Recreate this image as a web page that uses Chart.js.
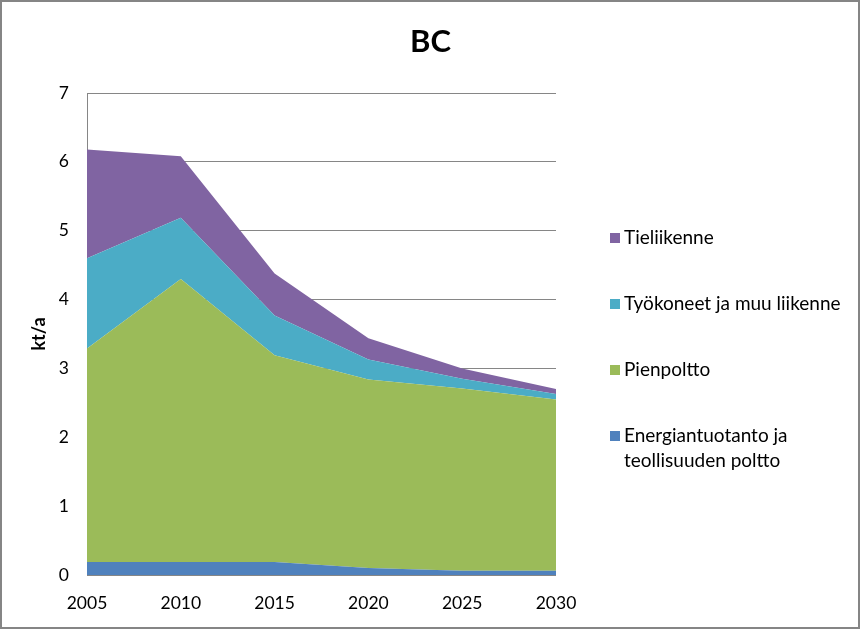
<!DOCTYPE html>
<html>
<head>
<meta charset="utf-8">
<script src="https://cdn.jsdelivr.net/npm/chart.js@4/dist/chart.umd.min.js"></script>
<style>
  html, body { margin: 0; padding: 0; background: #ffffff; }
  #wrap { position: relative; width: 861px; height: 631px; overflow: hidden; background: #fff; }
  #c { position: absolute; left: 0; top: 0; }
  #frame { position: absolute; left: 0px; top: 0px; width: 860px; height: 629px; box-sizing: border-box;
           border: 2px solid #858585; pointer-events: none; }
</style>
</head>
<body>
<div id="wrap">
  <canvas id="c" width="861" height="631"></canvas>
  <div id="frame"></div>
</div>
<script>
// ---- data ----
const years = ['2005', '2010', '2015', '2020', '2025', '2030'];
const energiantuotanto = [0.19, 0.19, 0.19, 0.10, 0.06, 0.06];
const pienpoltto       = [3.10, 4.11, 3.00, 2.74, 2.65, 2.49];
const tyokoneet        = [1.31, 0.89, 0.58, 0.29, 0.14, 0.08];
const tieliikenne      = [1.58, 0.89, 0.61, 0.31, 0.15, 0.07];
const seriesLabels = [
  ['Energiantuotanto ja', 'teollisuuden poltto'],
  ['Pienpoltto'],
  ['Työkoneet ja muu liikenne'],
  ['Tieliikenne']
];
const seriesColors = ['#4F81BD', '#9BBB59', '#4BACC6', '#8064A2'];
const yTicks = [0, 1, 2, 3, 4, 5, 6, 7];
const chartTitle = 'BC';
const yTitle = 'kt/a';

const FONT = 'Lato, "Noto Sans", sans-serif';

const values = [energiantuotanto, pienpoltto, tyokoneet, tieliikenne];
const datasets = values.map((v, i) => ({
  label: seriesLabels[i].join(' '),
  legendLines: seriesLabels[i],
  data: v,
  backgroundColor: seriesColors[i],
  borderColor: seriesColors[i],
  borderWidth: 0,
  pointRadius: 0,
  pointHoverRadius: 0,
  tension: 0,
  fill: i === 0 ? 'origin' : '-1'
}));

// side legend drawn inside Chart.js layout as a right-hand box
const sideLegend = {
  id: 'sideLegend',
  beforeInit(chart) {
    const box = {
      position: 'right',
      weight: 100,
      fullSize: false,
      options: {},
      isHorizontal() { return false; },
      update(maxWidth, maxHeight) { this.width = 305; this.height = maxHeight; },
      draw() {
        const ctx = chart.ctx;
        const ds = chart.data.datasets.slice().reverse();
        ctx.save();
        ctx.font = '19px ' + FONT;
        ctx.textBaseline = 'middle';
        ctx.textAlign = 'left';
        let y = this.top + 145;
        ds.forEach((d) => {
          ctx.fillStyle = d.backgroundColor;
          ctx.fillRect(this.left + 54, y - 5, 10, 10);
          ctx.fillStyle = '#000000';
          d.legendLines.forEach((line, k) => {
            ctx.fillText(line, this.left + 68, y + k * 25);
          });
          y += 66;
        });
        ctx.restore();
      }
    };
    Chart.layouts.addBox(chart, box);
  }
};

new Chart(document.getElementById('c'), {
  type: 'line',
  data: { labels: years, datasets },
  options: {
    responsive: false,
    animation: false,
    devicePixelRatio: 1,
    layout: { padding: 0 },
    plugins: {
      legend: { display: false },
      tooltip: { enabled: false },
      title: {
        display: true,
        text: chartTitle,
        color: '#000000',
        font: { family: FONT, size: 31, weight: 'bold', lineHeight: 1.2 },
        padding: { top: 23, bottom: 32.8 }
      }
    },
    scales: {
      x: {
        grid: { display: false, drawTicks: false },
        border: { display: false },
        offset: false,
        ticks: { color: '#000000', font: { family: FONT, size: 17.5 }, padding: 18, maxRotation: 0, autoSkip: false },
        afterFit(scale) { scale.height = 56; }
      },
      y: {
        stacked: true,
        min: 0,
        max: 7,
        afterBuildTicks(scale) { scale.ticks = yTicks.map(v => ({ value: v })); },
        grid: { color: '#868686', lineWidth: 1, drawTicks: false },
        border: { display: true, color: '#868686', width: 1 },
        ticks: { color: '#000000', font: { family: FONT, size: 17.5 }, padding: 18 },
        title: {
          display: true,
          text: yTitle,
          color: '#000000',
          font: { family: FONT, size: 18, weight: 'bold', lineHeight: 1.2 },
          padding: { top: 28, bottom: 0 }
        },
        afterFit(scale) { scale.width = 87; }
      }
    }
  },
  plugins: [sideLegend]
});
</script>
</body>
</html>
